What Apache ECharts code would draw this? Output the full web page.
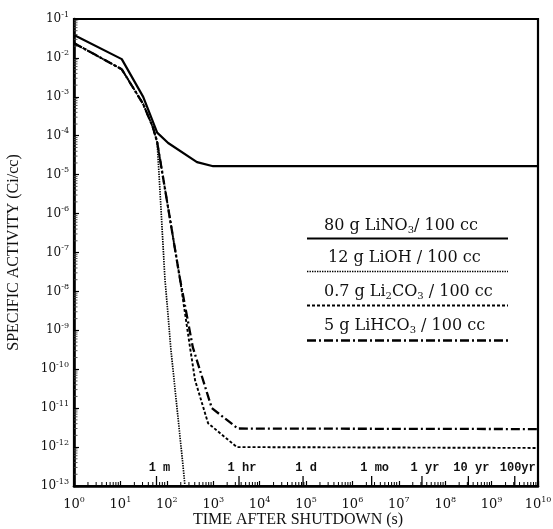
<!DOCTYPE html>
<html>
<head>
<meta charset="utf-8">
<script src="https://cdn.jsdelivr.net/npm/echarts@6/dist/echarts.min.js"></script>
<style>
  html, body { margin: 0; padding: 0; background: #fff; }
  #chart { width: 553px; height: 529px; }
</style>
</head>
<body>
<div id="chart"></div>
<script>
// Specific activity of lithium-salt coolants after reactor shutdown.
// Time in seconds, activity in Ci/cc.
const timeLiNO3 = [1, 10.7, 31, 62, 107, 447, 1000, 1e10];
const actLiNO3  = [3.9e-2, 9.3e-3, 1.0e-3, 1.2e-4, 6.5e-5, 2.1e-5, 1.65e-5, 1.65e-5];

const timeLiOH = [1, 10.7, 31, 50, 62, 91, 123, 214, 282];
const actLiOH  = [2.4e-2, 5.1e-3, 6.5e-4, 1.66e-4, 6.9e-5, 2.2e-8, 3.1e-10, 5.5e-13, 2e-14];

const timeLi2CO3 = [1, 10.7, 31, 50, 62, 191, 316, 407, 776, 3236, 1e10];
const actLi2CO3  = [2.4e-2, 5.1e-3, 6.5e-4, 1.66e-4, 6.9e-5, 2.2e-8, 3.7e-10, 5.2e-11, 4.1e-12, 1.0e-12, 9.5e-13];

const timeLiHCO3 = [1, 10.7, 31, 50, 62, 191, 363, 933, 3400, 1e10];
const actLiHCO3  = [2.4e-2, 5.1e-3, 6.5e-4, 1.66e-4, 6.9e-5, 2.2e-8, 3.7e-10, 1.0e-11, 3.0e-12, 2.9e-12];

// Reference durations marked along the time axis (seconds)
const periodSeconds = [60, 3600, 86400, 2.6e6, 3.156e7, 3.156e8, 3.156e9];
const periodLabels  = ['1 m', '1 hr', '1 d', '1 mo', '1 yr', '10 yr', '100yr'];

// Legend captions (rich text: s = subscript)
const legendCaptions = [
  '{a|80 g LiNO}{s|3}{a|/ 100 cc}',
  '{a|12 g LiOH / 100 cc}',
  '{a|0.7 g Li}{s|2}{a|CO}{s|3}{a| / 100 cc}',
  '{a|5 g LiHCO}{s|3}{a| / 100 cc}'
];

const X_MIN = 1, X_MAX = 1e10, Y_MIN = 1e-13, Y_MAX = 1e-1;

// line styles shared by curves and legend samples
const styles = [
  { width: 2.2, dash: null },
  { width: 1.7, dash: [1.4, 1.1] },
  { width: 1.9, dash: [3, 2] },
  { width: 2.3, dash: [9, 3, 2, 3] }
];

function pairs(xs, ys) { return xs.map((x, i) => [x, ys[i]]); }

// log-axis minor tick positions (2..9 within every decade of the axis range)
function minorTicks(lo, hi) {
  const out = [];
  for (let e = Math.round(Math.log10(lo)); e < Math.round(Math.log10(hi)); e++) {
    for (let k = 2; k <= 9; k++) out.push(k * Math.pow(10, e));
  }
  return out;
}

const serifTick = 'DejaVu Serif';
function powLabel(v) {
  const e = Math.round(Math.log10(v));
  return '{b|10}{e|' + e + '}';
}
function tickRich(size) {
  return {
    b: { fontFamily: serifTick, fontSize: size, color: '#111' },
    e: { fontFamily: serifTick, fontSize: 8, color: '#111', padding: [0, 0, 9, 0] }
  };
}

function curve(name, xs, ys, st) {
  return {
    name: name, type: 'line', data: pairs(xs, ys), symbol: 'none',
    clip: true, silent: true, animation: false,
    lineStyle: { color: '#000', width: st.width, type: st.dash || 'solid' }
  };
}

const chart = echarts.init(document.getElementById('chart'), null, { renderer: 'canvas' });

const legendGraphics = [];
const lineY = [238.5, 271.5, 305.5, 340.5];
const textY = [226, 258, 292, 326];
const textX = [324, 328, 324, 324];
for (let i = 0; i < 4; i++) {
  legendGraphics.push({
    type: 'line', silent: true,
    shape: { x1: 307, y1: lineY[i], x2: 508, y2: lineY[i] },
    style: { stroke: '#000', lineWidth: styles[i].width, lineDash: styles[i].dash }
  });
  legendGraphics.push({
    type: 'text', silent: true, x: textX[i], y: textY[i],
    style: {
      text: legendCaptions[i],
      verticalAlign: 'middle', align: 'left',
      rich: {
        a: { fontFamily: 'DejaVu Serif', fontSize: 16, fill: '#111', color: '#111' },
        s: { fontFamily: 'DejaVu Serif', fontSize: 10, fill: '#111', color: '#111', padding: [9, 0, 0, 0] }
      }
    }
  });
}

chart.setOption({
  animation: false,
  backgroundColor: '#fff',
  grid: {
    left: 74, right: 15, top: 19, bottom: 43, show: true,
    borderColor: '#000', borderWidth: 2.2,
    outerBoundsMode: 'none', containLabel: false
  },
  xAxis: {
    type: 'log', logBase: 10, min: X_MIN, max: X_MAX, interval: 1,
    name: 'TIME AFTER SHUTDOWN (s)', nameLocation: 'middle', nameGap: 26, nameMoveOverlap: false,
    nameTextStyle: { fontFamily: 'Liberation Serif', fontSize: 16, color: '#111', padding: [0, 16, 0, 0] },
    axisLine: { lineStyle: { color: '#000', width: 2.6 } },
    axisTick: { inside: true, length: 5, lineStyle: { color: '#000', width: 1.2 } },
    splitLine: { show: false },
    axisLabel: { formatter: powLabel, rich: tickRich(13), margin: 10, showMinLabel: true, showMaxLabel: true, hideOverlap: false }
  },
  yAxis: {
    type: 'log', logBase: 10, min: Y_MIN, max: Y_MAX, interval: 1,
    name: 'SPECIFIC ACTIVITY (Ci/cc)', nameLocation: 'middle', nameGap: 52, nameRotate: 90, nameMoveOverlap: false,
    nameTextStyle: { fontFamily: 'Liberation Serif', fontSize: 16, color: '#111' },
    axisLine: { lineStyle: { color: '#000', width: 2.6 } },
    axisTick: { inside: true, length: 5, lineStyle: { color: '#000', width: 1.2 } },
    splitLine: { show: false },
    axisLabel: { formatter: powLabel, rich: tickRich(12), margin: 5, showMinLabel: true, showMaxLabel: true, hideOverlap: false }
  },
  graphic: legendGraphics,
  series: [
    curve('80 g LiNO3 / 100 cc', timeLiNO3, actLiNO3, styles[0]),
    curve('12 g LiOH / 100 cc', timeLiOH, actLiOH, styles[1]),
    curve('0.7 g Li2CO3 / 100 cc', timeLi2CO3, actLi2CO3, styles[2]),
    curve('5 g LiHCO3 / 100 cc', timeLiHCO3, actLiHCO3, styles[3]),
    {
      // minor ticks on the time axis
      type: 'custom', silent: true, animation: false, clip: false,
      data: minorTicks(X_MIN, X_MAX).map(v => [v, Y_MIN]),
      renderItem: function (params, api) {
        const p = api.coord([api.value(0), Y_MIN]);
        return { type: 'line', shape: { x1: p[0], y1: p[1], x2: p[0], y2: p[1] - 4 },
                 style: { stroke: '#000', lineWidth: 1 } };
      }
    },
    {
      // minor ticks on the activity axis
      type: 'custom', silent: true, animation: false, clip: false,
      data: minorTicks(Y_MIN, Y_MAX).map(v => [X_MIN, v]),
      renderItem: function (params, api) {
        const p = api.coord([X_MIN, api.value(1)]);
        return { type: 'line', shape: { x1: p[0], y1: p[1], x2: p[0] + 3.5, y2: p[1] },
                 style: { stroke: '#444', lineWidth: 0.9 } };
      }
    },
    {
      // duration markers: short tick rising from the axis with its caption above
      type: 'custom', silent: true, animation: false, clip: false,
      data: periodSeconds.map(v => [v, Y_MIN]),
      renderItem: function (params, api) {
        const p = api.coord([api.value(0), Y_MIN]);
        return {
          type: 'group',
          children: [
            { type: 'line', shape: { x1: p[0], y1: p[1], x2: p[0], y2: p[1] - 10 },
              style: { stroke: '#000', lineWidth: 1.3 } },
            { type: 'text', x: p[0] + 3, y: p[1] - 18,
              style: { text: periodLabels[params.dataIndex], fontFamily: 'Liberation Mono',
                       fontSize: 12, fontWeight: 'bold', fill: '#111',
                       align: 'center', verticalAlign: 'middle' } }
          ]
        };
      }
    }
  ]
});
</script>
</body>
</html>
